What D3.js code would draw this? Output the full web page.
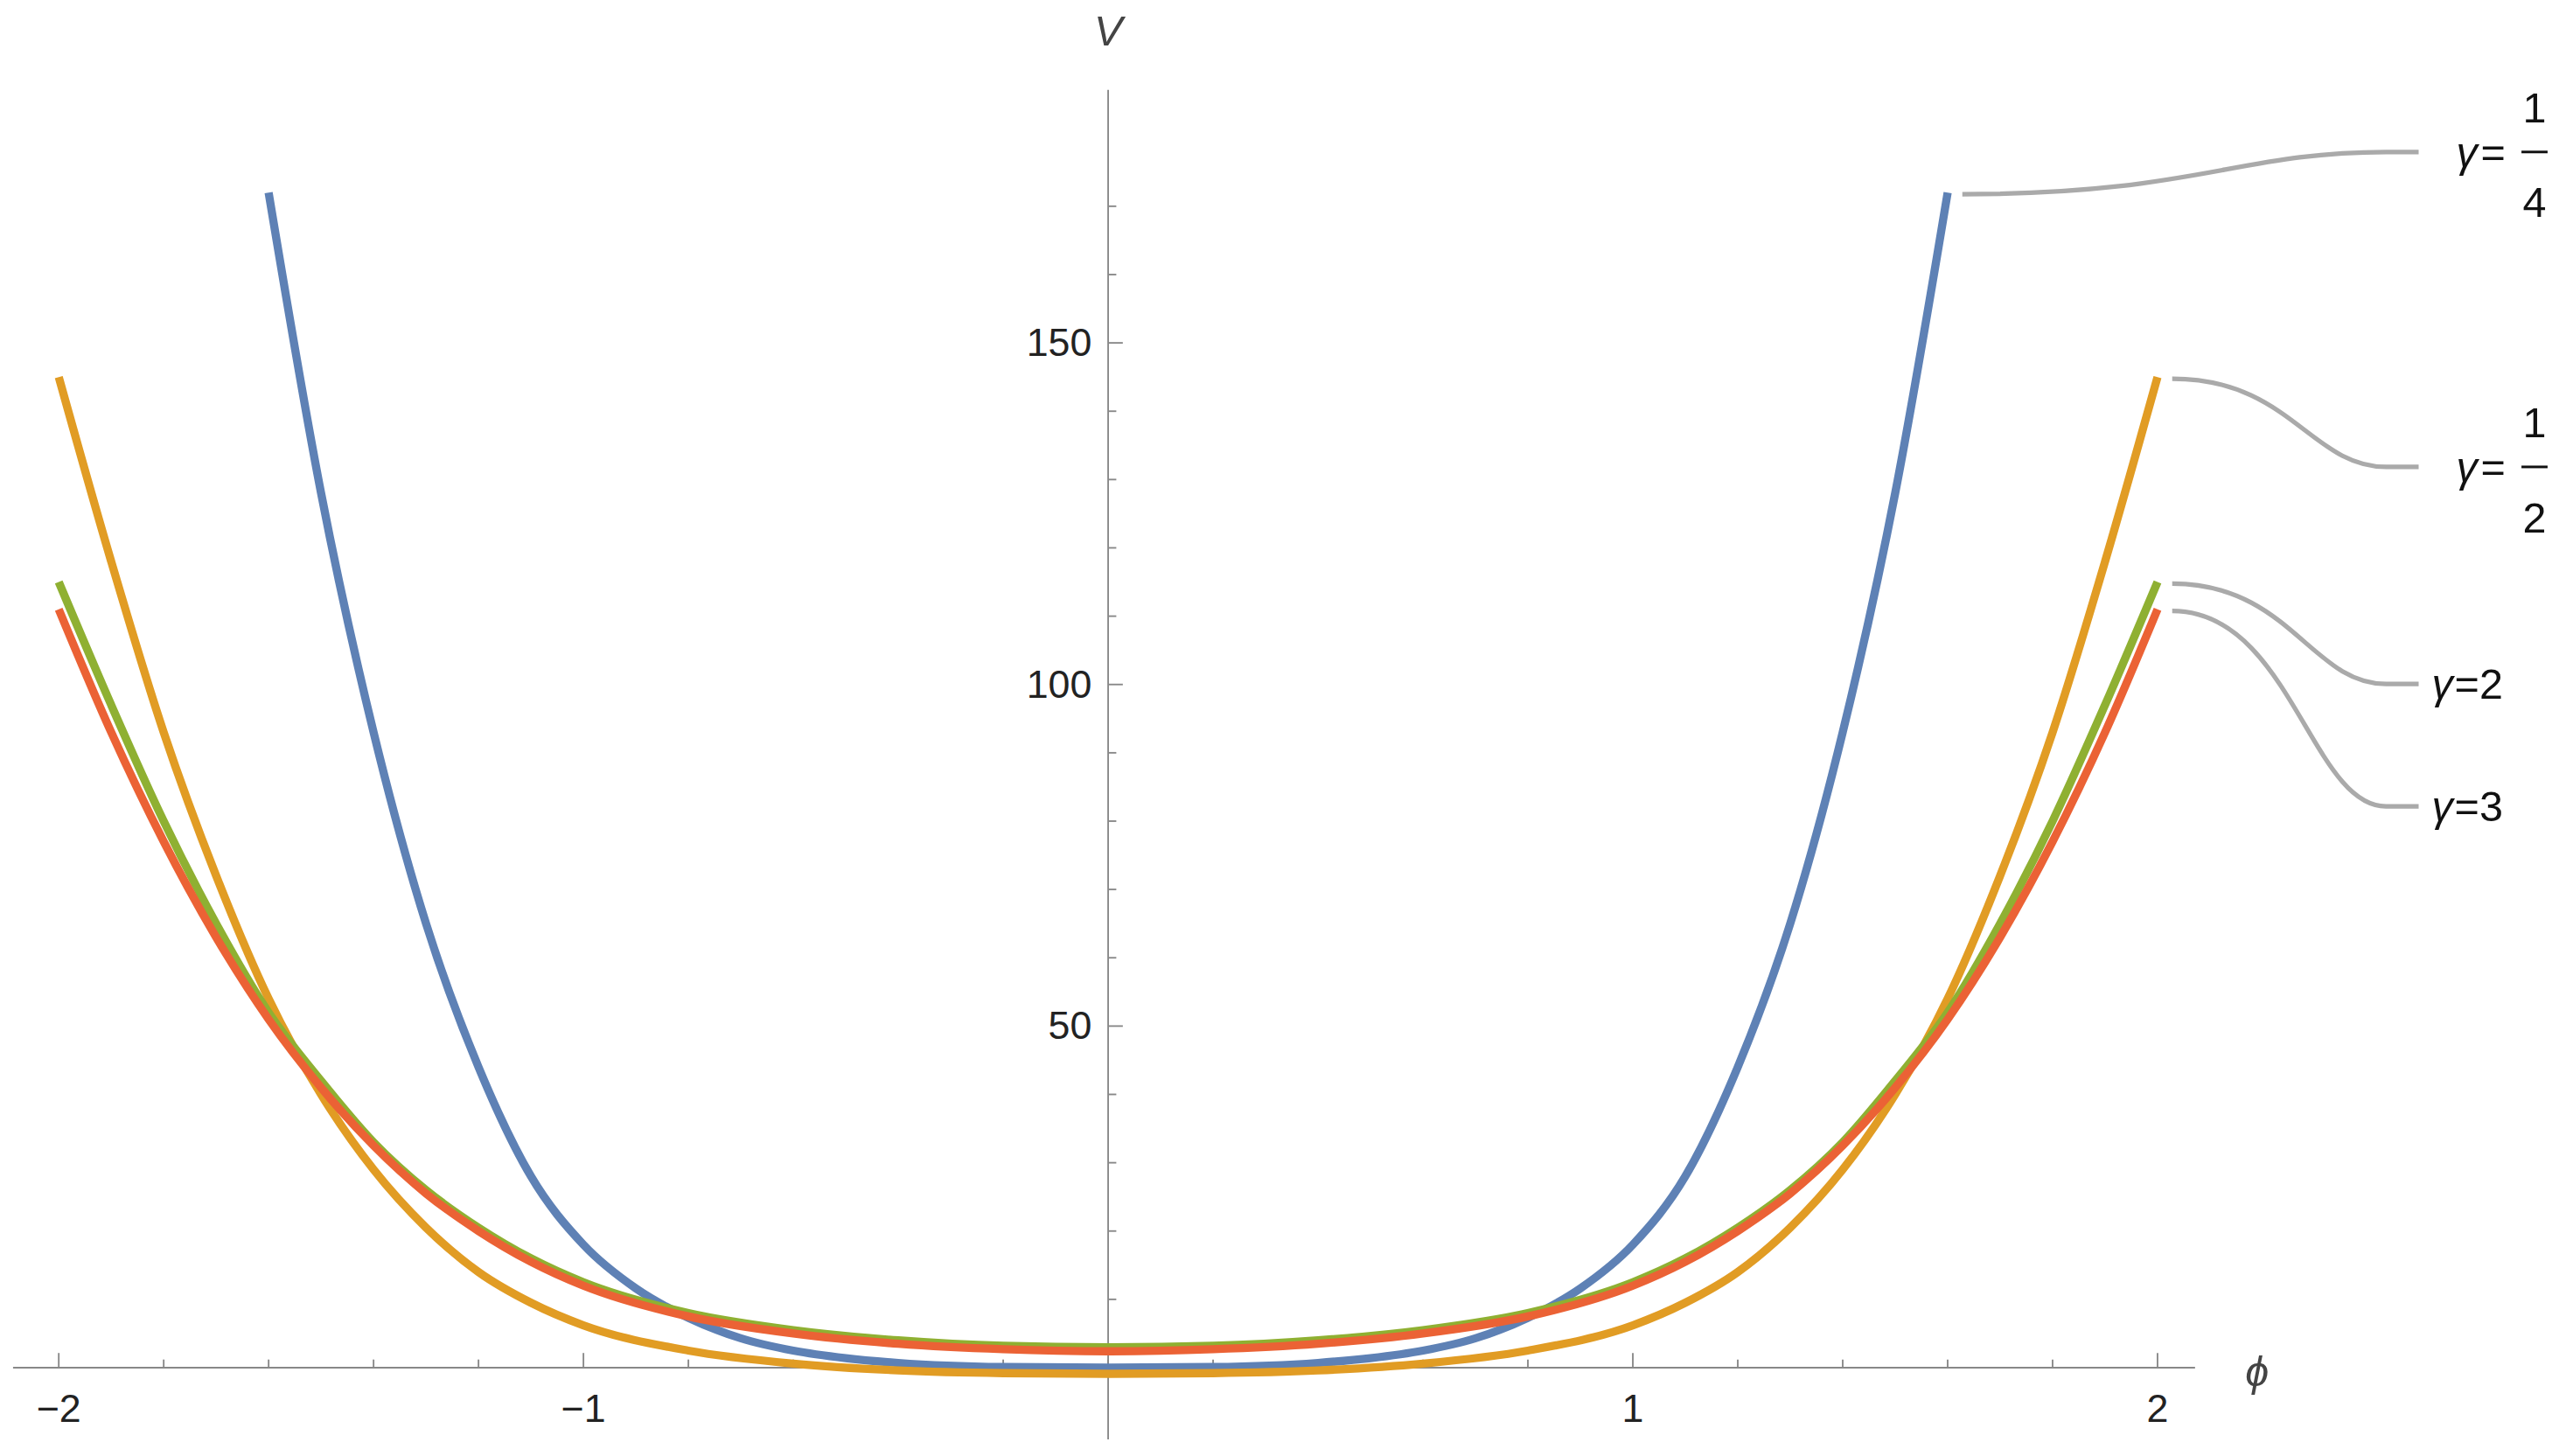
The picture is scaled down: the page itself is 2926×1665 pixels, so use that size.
<!DOCTYPE html>
<html>
<head>
<meta charset="utf-8">
<script src="https://cdn.jsdelivr.net/npm/d3@7"></script>
<style>
  html, body { margin: 0; padding: 0; background: #fff; }
  svg { display: block; font-family: "Liberation Sans", Arial, sans-serif; }
</style>
</head>
<body>
<div id="chart"></div>
<script>
// phi values (positive half, curves are symmetric)
const phiBlue = [0, 0.2, 0.4, 0.5, 0.6, 0.7, 0.8, 0.9, 1.0, 1.1, 1.2, 1.3, 1.4, 1.5, 1.6];
const vBlue   = [0, 0.1, 0.7, 1.4, 2.5, 4.3, 7.3, 11.6, 18, 28, 44, 65, 93, 128, 172];

const phiFull = [0, 0.2, 0.4, 0.6, 0.8, 1.0, 1.1, 1.2, 1.3, 1.4, 1.5, 1.6, 1.7, 1.8, 1.9, 2.0];
const vOrange = [-0.9, -0.8, -0.4, 0.6, 2.5, 6.2, 9.5, 14, 20.5, 29, 40, 54, 72, 93, 118, 145];
const vGreen  = [3, 3.2, 4, 5.5, 8, 12.5, 16, 20.5, 26, 33, 42, 52, 65, 80, 97, 115];
const vRed    = [2.4, 2.7, 3.5, 5, 7.5, 12, 15.5, 20, 25.5, 32.5, 41, 51, 63, 77, 93, 111];

const seriesNames  = ['1/4', '1/2', '2', '3'];
const seriesColors = ['#5e81b5', '#e19c24', '#8fb032', '#eb6235'];
const labelY = [93, 286, 419, 494];

const xTicks = [-2, -1, 1, 2];
const yTicks = [50, 100, 150];

function mirror(phis, vs) {
  const pts = phis.map((p, i) => [p, vs[i]]);
  const neg = pts.slice(1).map(d => [-d[0], d[1]]).reverse();
  return neg.concat(pts);
}
const series = [
  mirror(phiBlue, vBlue),
  mirror(phiFull, vOrange),
  mirror(phiFull, vGreen),
  mirror(phiFull, vRed)
];

const W = 1568, H = 892;
const svg = d3.select('#chart').append('svg')
  .attr('width', 2926).attr('height', 1665)
  .attr('viewBox', `0 0 ${W} ${H}`);

const x = d3.scaleLinear().domain([-2, 2]).range([36, 1322]);
const y = d3.scaleLinear().domain([0, 150]).range([838, 210]);

// axes
const xAxis = svg.append('g').attr('transform', `translate(0,${y(0)})`);
xAxis.append('line').attr('x1', 8).attr('x2', 1345).attr('stroke', '#888').attr('stroke-width', 1);
xAxis.selectAll('.minor').data(d3.range(-2, 2.001, 0.2).map(d => +d.toFixed(1)))
  .enter().append('line')
  .attr('x1', d => x(d)).attr('x2', d => x(d))
  .attr('y1', 0).attr('y2', d => xTicks.includes(d) ? -9 : -5)
  .attr('stroke', '#888');
xAxis.selectAll('text').data(xTicks).enter().append('text')
  .attr('x', d => x(d)).attr('y', 33)
  .attr('text-anchor', 'middle').attr('font-size', 24).attr('fill', '#222')
  .text(d => d < 0 ? '\u2212' + Math.abs(d) : d);

const yAxis = svg.append('g').attr('transform', `translate(${x(0)},0)`);
yAxis.append('line').attr('y1', 55).attr('y2', 882).attr('stroke', '#888');
yAxis.selectAll('.minor').data(d3.range(10, 180, 10))
  .enter().append('line')
  .attr('y1', d => y(d)).attr('y2', d => y(d))
  .attr('x1', 0).attr('x2', d => yTicks.includes(d) ? 9 : 5)
  .attr('stroke', '#888');
yAxis.selectAll('text').data(yTicks).enter().append('text')
  .attr('x', -10).attr('y', d => y(d) + 8)
  .attr('text-anchor', 'end').attr('font-size', 24).attr('fill', '#222')
  .text(d => d);

svg.append('text').attr('x', x(0)).attr('y', 28).attr('text-anchor', 'middle')
  .attr('font-size', 26).attr('font-style', 'italic').attr('fill', '#444').text('V');
svg.append('text').attr('x', 1383).attr('y', 849).attr('text-anchor', 'middle')
  .attr('font-size', 26).attr('font-style', 'italic').attr('fill', '#444').text('\u03d5');

// curves
const line = d3.line().x(d => x(d[0])).y(d => y(d[1])).curve(d3.curveMonotoneX);
series.forEach((s, i) => {
  svg.append('path').attr('d', line(s))
    .attr('fill', 'none').attr('stroke', seriesColors[i])
    .attr('stroke-width', 5).attr('stroke-linejoin', 'round');
});

// leader lines and labels
series.forEach((s, i) => {
  const end = s[s.length - 1];
  const x0 = x(end[0]) + 9, y0 = y(end[1]) + 1;
  const x1 = 1462, y1 = labelY[i];
  const mx = x0 + (x1 - x0) * 0.55;
  svg.append('path')
    .attr('d', `M${x0},${y0} C${mx},${y0} ${mx + (x1 - x0) * 0.1},${y1} ${x1},${y1} L1482,${y1}`)
    .attr('fill', 'none').attr('stroke', '#aaa').attr('stroke-width', 2.8);
  const g = svg.append('g').attr('font-size', 26).attr('fill', '#111');
  const frac = seriesNames[i].split('/');
  if (frac.length === 2) {
    g.append('text').attr('x', 1505).attr('y', y1 + 9).attr('font-style', 'italic').text('\u03b3');
    g.append('text').attr('x', 1520).attr('y', y1 + 9).text('=');
    g.append('text').attr('x', 1553).attr('y', y1 - 18).attr('text-anchor', 'middle').text(frac[0]);
    g.append('line').attr('x1', 1545).attr('x2', 1561).attr('y1', y1).attr('y2', y1)
      .attr('stroke', '#111').attr('stroke-width', 1.6);
    g.append('text').attr('x', 1553).attr('y', y1 + 40).attr('text-anchor', 'middle').text(frac[1]);
  } else {
    g.append('text').attr('x', 1490).attr('y', y1 + 9).attr('font-style', 'italic').text('\u03b3');
    g.append('text').attr('x', 1504).attr('y', y1 + 9).text('=' + seriesNames[i]);
  }
});
</script>
</body>
</html>
